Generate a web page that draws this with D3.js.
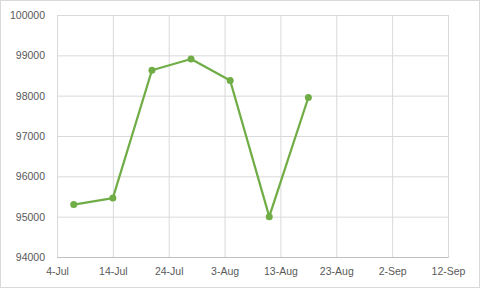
<!DOCTYPE html>
<html>
<head>
<meta charset="utf-8">
<script src="https://cdn.jsdelivr.net/npm/d3@7"></script>
<style>
  html, body { margin: 0; padding: 0; background: #fff; }
  text { font-family: "Liberation Sans", Arial, sans-serif; font-size: 10.5px; fill: #595959; }
</style>
</head>
<body>
<svg id="chart" width="480" height="288"></svg>
<script>
// data
const dates = ["7-Jul", "14-Jul", "21-Jul", "28-Jul", "4-Aug", "11-Aug", "18-Aug"];
const values = [95300, 95460, 98630, 98910, 98375, 95000, 97955];
const xTickLabels = ["4-Jul", "14-Jul", "24-Jul", "3-Aug", "13-Aug", "23-Aug", "2-Sep", "12-Sep"];
const yTicks = [94000, 95000, 96000, 97000, 98000, 99000, 100000];

const parse = d3.timeParse("%-d-%b");
const fmt = d3.timeFormat("%-d-%b");

const svg = d3.select("#chart");
const W = 480, H = 288;
const m = {left: 57, right: 32, top: 15, bottom: 31};

// chart border
svg.append("rect")
    .attr("x", 0.5).attr("y", 0.5)
    .attr("width", W - 1).attr("height", H - 1)
    .attr("fill", "#fff").attr("stroke", "#d9d9d9");

const xTicks = xTickLabels.map(parse);

const x = d3.scaleTime()
    .domain([xTicks[0], xTicks[xTicks.length - 1]])
    .range([m.left, W - m.right]);

const y = d3.scaleLinear()
    .domain([yTicks[0], yTicks[yTicks.length - 1]])
    .range([H - m.bottom, m.top]);

// horizontal gridlines + y labels
const yAxis = svg.append("g")
    .attr("transform", `translate(${m.left},0)`)
    .call(d3.axisLeft(y).tickValues(yTicks).tickSize(-(W - m.left - m.right)).tickPadding(12).tickFormat(d3.format("d")));
yAxis.select(".domain").remove();
yAxis.selectAll("line").attr("stroke", "#d9d9d9");

// vertical gridlines + x labels
const xAxis = svg.append("g")
    .attr("transform", `translate(0,${H - m.bottom})`)
    .call(d3.axisBottom(x).tickValues(xTicks).tickSize(-(H - m.top - m.bottom)).tickPadding(11).tickFormat(fmt));
xAxis.select(".domain").attr("stroke", "#bfbfbf");
xAxis.selectAll("line").attr("stroke", "#d9d9d9");

const pts = dates.map((d, i) => ({date: parse(d), value: values[i]}));

const line = d3.line()
    .x(d => x(d.date))
    .y(d => y(d.value));

svg.append("path")
    .datum(pts)
    .attr("d", line)
    .attr("fill", "none")
    .attr("stroke", "#70ad47")
    .attr("stroke-width", 2.25)
    .attr("stroke-linejoin", "round");

svg.selectAll("circle.pt")
    .data(pts)
    .enter().append("circle")
    .attr("class", "pt")
    .attr("cx", d => x(d.date))
    .attr("cy", d => y(d.value))
    .attr("r", 3.5)
    .attr("fill", "#70ad47");
</script>
</body>
</html>
